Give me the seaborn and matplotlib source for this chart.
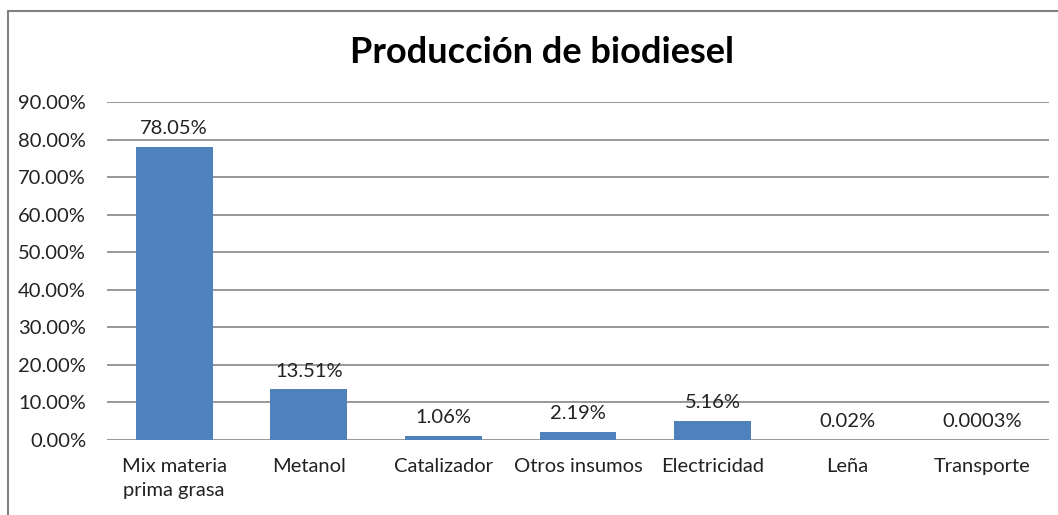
import matplotlib
matplotlib.use("Agg")
import matplotlib.pyplot as plt
import seaborn as sns
import pandas as pd
from matplotlib.lines import Line2D
from matplotlib.ticker import FuncFormatter

categories = ["Mix materia\nprima grasa", "Metanol", "Catalizador", "Otros insumos",
              "Electricidad", "Leña", "Transporte"]
values = [78.05, 13.51, 1.06, 2.19, 5.16, 0.02, 0.0003]
labels = ["78.05%", "13.51%", "1.06%", "2.19%", "5.16%", "0.02%", "0.0003%"]

df = pd.DataFrame({"categoria": categories, "valor": values})

sns.set_style("white")
plt.rcParams["font.family"] = ["Lato", "DejaVu Sans"]

fig = plt.figure(figsize=(10.58, 5.15), dpi=100)
ax = fig.add_axes([0.101, 0.1456, 0.8905, 0.6563])

sns.barplot(data=df, x="categoria", y="valor", color="#4F81BD", saturation=1,
            width=0.57, ax=ax, zorder=3, linewidth=0)

ax.set_ylim(0, 90)
ax.set_yticks(range(0, 91, 10))
ax.yaxis.set_major_formatter(FuncFormatter(lambda v, p: f"{v:.2f}%"))
ax.grid(axis="y", color="#868686", linewidth=1.2, zorder=0)
ax.set_axisbelow(True)
for s in ax.spines.values():
    s.set_visible(False)
ax.tick_params(axis="both", length=0, labelsize=14.5, colors="#222222")
ax.tick_params(axis="y", pad=15)
ax.tick_params(axis="x", pad=13)
for t in ax.get_xticklabels():
    t.set_linespacing(1.5)
ax.set_xlabel("")
ax.set_ylabel("")

ax.bar_label(ax.containers[0], labels=labels, padding=7, fontsize=14.5, color="#222222")

fig.text(0.512, 0.898, "Producción de biodiesel", ha="center", va="center",
         fontsize=26, fontweight="bold", color="black")

# chart frame (left and top edges visible)
fig.add_artist(Line2D([8 / 1058, 8 / 1058], [0, 1 - 11 / 515], transform=fig.transFigure,
                      color="#808080", linewidth=1.5))
fig.add_artist(Line2D([8 / 1058, 1], [1 - 11 / 515, 1 - 11 / 515], transform=fig.transFigure,
                      color="#808080", linewidth=1.5))

fig.savefig("out.png", dpi=100, facecolor="white")
